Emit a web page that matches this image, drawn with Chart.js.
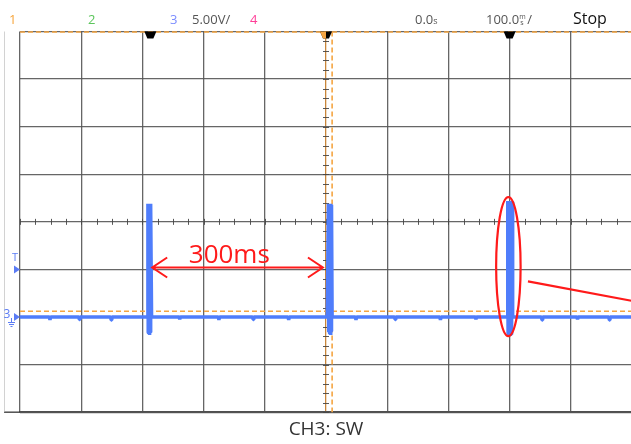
<!DOCTYPE html>
<html>
<head>
<meta charset="utf-8">
<script src="https://cdn.jsdelivr.net/npm/chart.js@4"></script>
<style>
  html, body { margin: 0; padding: 0; background: #fff; }
  #wrap { width: 631px; height: 444px; overflow: hidden; }
</style>
</head>
<body>
<div id="wrap"><canvas id="chart" width="640" height="444"></canvas></div>
<script>
'use strict'

// horizontal: 100 ms/div, 0.0 s at centre; vertical: CH3 5.00 V/div, ground 2 div below centre
const timeTicks = [-500, -400, -300, -200, -100, 0, 100, 200, 300, 400, 500]
const voltTicks = [-10, -5, 0, 5, 10, 15, 20, 25, 30]

// CH3 (SW) trace, time in ms, volts
const traceTime = [
  -500, -452, -451, -450, -404, -403, -402, -352, -351, -350, -292,
  -291, -290.5, -290, -289.5, -289, -288.5, -288, -287.5, -287, -286.5, -286,
  -285, -240, -239, -238, -176, -175, -174, -120, -119, -118, -62, -61, -60, 2,
  4, 4.5, 5, 5.5, 6, 6.5, 7, 7.5, 8, 8.5, 9,
  10, 48, 49, 50, 112, 113, 114, 186, 187, 188, 244, 245, 246, 296,
  297, 297.5, 298, 298.5, 299, 299.5, 300, 300.5, 301, 301.5, 302, 302.5, 303, 303.5, 304,
  305, 352, 353, 354, 410, 411, 412, 462, 463, 464, 500
]
const traceVolts = [
  0, 0, -0.3, 0, 0, -0.25, 0, 0, -0.3, 0, 0,
  11.9, -1.6, 11.9, -1.7, 11.9, -1.9, 11.9, -1.6, 11.9, -1.5, 11.8,
  0, 0, -0.25, 0, 0, -0.3, 0, 0, -0.25, 0, 0, -0.3, 0, 0,
  11.9, -1.6, 11.9, -1.8, 11.9, -1.6, 11.9, -1.9, 11.9, -1.5, 11.8,
  0, 0, -0.3, 0, 0, -0.25, 0, 0, -0.3, 0, 0, -0.25, 0, 0,
  12.2, -1.7, 12.2, -1.8, 12.2, -1.7, 12.2, -1.8, 12.2, -1.7, 12.2, -1.8, 12.2, -1.6, 12.1,
  0, 0, -0.3, 0, 0, -0.25, 0, 0, -0.3, 0, 0
]

// cursors / markers
const markerTimes = [-287, 0, 300]
const trigLevel = 0.6 // orange dashed level, V
const trigTime = 10 // orange dashed cursor, ms
const trigMarkV = 5 // "T" marker on the left

// red annotation
const spanLabel = '300ms'
const spanLabelT = -158
const spanFrom = -284
const spanTo = -5
const spanV = 5.2
const ringT = 298
const ringV = 5.3

const points = traceTime.map((t, i) => ({ x: t, y: traceVolts[i] }))

const BLUE = '#4f7dfb'
const ORANGE = '#f5a542'
const RED = '#ff1a1a'
const GRID = 'rgba(85,85,85,0.9)'

const scopeDecor = {
  id: 'scopeDecor',
  beforeDatasetsDraw (chart) {
    const { ctx, chartArea: a } = chart
    const sx = chart.scales.x
    const sy = chart.scales.y
    const cx = sx.getPixelForValue(0)
    const cy = sy.getPixelForValue(10)
    ctx.save()
    // minor ticks on centre lines
    ctx.strokeStyle = 'rgba(70,70,70,0.9)'
    ctx.lineWidth = 1
    ctx.beginPath()
    for (let t = -500; t <= 500; t += 25) {
      const p = Math.round(sx.getPixelForValue(t)) + 0.5
      ctx.moveTo(p, cy - 3)
      ctx.lineTo(p, cy + 3)
    }
    for (let v = -10; v <= 30; v += 1) {
      const p = Math.round(sy.getPixelForValue(v)) + 0.5
      ctx.moveTo(cx - 3, p)
      ctx.lineTo(cx + 3, p)
    }
    ctx.stroke()
    // orange dashed lines
    ctx.strokeStyle = ORANGE
    ctx.lineWidth = 1.6
    ctx.setLineDash([5, 3])
    ctx.beginPath()
    ctx.moveTo(a.left, a.top + 0.5)
    ctx.lineTo(a.right, a.top + 0.5)
    const ly = sy.getPixelForValue(trigLevel)
    ctx.moveTo(a.left, ly)
    ctx.lineTo(a.right, ly)
    const lx = sx.getPixelForValue(trigTime)
    ctx.moveTo(lx, a.top)
    ctx.lineTo(lx, a.bottom)
    ctx.stroke()
    ctx.setLineDash([])
    // extension of the bottom frame and faint left frame
    ctx.strokeStyle = 'rgba(60,60,60,0.9)'
    ctx.lineWidth = 1.5
    ctx.beginPath()
    ctx.moveTo(4, a.bottom)
    ctx.lineTo(a.left, a.bottom)
    ctx.stroke()
    ctx.strokeStyle = 'rgba(180,180,180,0.6)'
    ctx.lineWidth = 1
    ctx.beginPath()
    ctx.moveTo(4.5, a.top)
    ctx.lineTo(4.5, a.bottom)
    ctx.stroke()
    ctx.restore()
  },
  afterDatasetsDraw (chart) {
    const { ctx, chartArea: a } = chart
    const sx = chart.scales.x
    const sy = chart.scales.y
    ctx.save()
    // top cursor markers
    markerTimes.forEach(t => {
      const p = sx.getPixelForValue(t)
      ctx.fillStyle = '#000'
      ctx.beginPath()
      ctx.moveTo(p - 6, a.top)
      ctx.lineTo(p + 6, a.top)
      ctx.lineTo(p + 3, a.top + 7)
      ctx.lineTo(p - 3, a.top + 7)
      ctx.closePath()
      ctx.fill()
      if (t === 0) {
        ctx.fillStyle = ORANGE
        ctx.beginPath()
        ctx.moveTo(p - 6, a.top)
        ctx.lineTo(p, a.top)
        ctx.lineTo(p, a.top + 7)
        ctx.lineTo(p - 3, a.top + 7)
        ctx.closePath()
        ctx.fill()
      }
    })
    // left markers
    ctx.fillStyle = '#5b7cf5'
    const ty = sy.getPixelForValue(trigMarkV)
    ctx.beginPath()
    ctx.moveTo(14, ty - 4)
    ctx.lineTo(20, ty)
    ctx.lineTo(14, ty + 4)
    ctx.closePath()
    ctx.fill()
    ctx.font = '11px "Open Sans", sans-serif'
    ctx.textAlign = 'center'
    ctx.textBaseline = 'middle'
    ctx.fillText('T', 15, ty - 12)
    const gy = sy.getPixelForValue(0)
    ctx.beginPath()
    ctx.moveTo(14, gy - 4)
    ctx.lineTo(20, gy)
    ctx.lineTo(14, gy + 4)
    ctx.closePath()
    ctx.fill()
    ctx.font = '12px "Open Sans", sans-serif'
    ctx.fillText('3', 7, gy - 2)
    ctx.strokeStyle = '#5b7cf5'
    ctx.lineWidth = 1
    ctx.beginPath()
    ctx.moveTo(11.5, gy + 1)
    ctx.lineTo(11.5, gy + 5)
    ctx.moveTo(8, gy + 5.5)
    ctx.lineTo(15, gy + 5.5)
    ctx.moveTo(9, gy + 7.5)
    ctx.lineTo(14, gy + 7.5)
    ctx.moveTo(10.5, gy + 9.5)
    ctx.lineTo(12.5, gy + 9.5)
    ctx.stroke()

    // red annotation: span arrow
    ctx.strokeStyle = RED
    ctx.fillStyle = RED
    ctx.lineWidth = 2
    const x1 = sx.getPixelForValue(spanFrom)
    const x2 = sx.getPixelForValue(spanTo)
    const ay = sy.getPixelForValue(spanV)
    ctx.beginPath()
    ctx.moveTo(x1, ay)
    ctx.lineTo(x2, ay)
    ctx.moveTo(x1 + 15, ay - 10)
    ctx.lineTo(x1, ay)
    ctx.lineTo(x1 + 15, ay + 10)
    ctx.moveTo(x2 - 15, ay - 10)
    ctx.lineTo(x2, ay)
    ctx.lineTo(x2 - 15, ay + 10)
    ctx.stroke()
    ctx.font = '26px "Open Sans", sans-serif'
    ctx.textAlign = 'center'
    ctx.textBaseline = 'alphabetic'
    ctx.fillText(spanLabel, sx.getPixelForValue(spanLabelT), ay - 5)

    // ring round the third pulse and pointer line
    const rx = sx.getPixelForValue(ringT)
    const ry = sy.getPixelForValue(ringV)
    const rw = sx.getPixelForValue(ringT + 20) - rx
    const rh = ry - sy.getPixelForValue(ringV + 7.3)
    ctx.lineWidth = 2.2
    ctx.beginPath()
    ctx.ellipse(rx, ry, rw, rh, 0, 0, Math.PI * 2)
    ctx.stroke()
    ctx.beginPath()
    ctx.moveTo(sx.getPixelForValue(330), sy.getPixelForValue(3.75))
    ctx.lineTo(sx.getPixelForValue(512), sy.getPixelForValue(1.55))
    ctx.stroke()
    ctx.restore()
  },
  afterDraw (chart) {
    const { ctx } = chart
    ctx.save()
    ctx.textBaseline = 'middle'
    ctx.textAlign = 'left'
    ctx.font = '13px "Open Sans", sans-serif'
    ctx.fillStyle = '#f7a53c'
    ctx.fillText('1', 9, 20)
    ctx.fillStyle = '#5cc65c'
    ctx.fillText('2', 88, 20)
    ctx.fillStyle = '#7b8cff'
    ctx.fillText('3', 170, 20)
    ctx.fillStyle = '#ff3d97'
    ctx.fillText('4', 250, 20)
    ctx.fillStyle = '#555'
    ctx.fillText('5.00V/', 192, 20)
    ctx.fillText('0.0', 415, 20)
    ctx.fillText('100.0', 486, 20)
    const w1 = ctx.measureText('0.0').width
    const w2 = ctx.measureText('100.0').width
    ctx.font = '9px "Open Sans", sans-serif'
    ctx.fillText('s', 415 + w1, 21)
    ctx.font = '7px "Open Sans", sans-serif'
    ctx.fillText('m', 486 + w2, 17)
    ctx.fillText('s', 487 + w2, 23)
    ctx.font = '13px "Open Sans", sans-serif'
    ctx.fillText('/', 494 + w2, 20)
    ctx.fillStyle = '#111'
    ctx.font = '16px "Open Sans", sans-serif'
    ctx.fillText('Stop', 573, 19)
    ctx.restore()
  }
}

const ctx = document.getElementById('chart')

const scopeChart = new Chart(ctx, {
  type: 'scatter',
  data: {
    datasets: [{
      label: 'CH3: SW',
      data: points,
      showLine: true,
      borderColor: BLUE,
      backgroundColor: BLUE,
      borderWidth: 3.5,
      borderJoinStyle: 'bevel',
      pointRadius: 0,
      tension: 0
    }]
  },
  options: {
    responsive: false,
    animation: false,
    layout: { padding: { left: 20, top: 31.5, right: 8, bottom: 0 } },
    plugins: {
      legend: { display: false },
      tooltip: { enabled: false },
      title: {
        display: true,
        position: 'bottom',
        text: 'CH3: SW',
        color: '#333',
        font: { family: '"Open Sans", sans-serif', size: 19, weight: 'normal' },
        padding: { top: 6, bottom: 3 }
      }
    },
    scales: {
      x: {
        type: 'linear',
        min: timeTicks[0],
        max: timeTicks[timeTicks.length - 1],
        afterBuildTicks: scale => { scale.ticks = timeTicks.map(v => ({ value: v })) },
        ticks: { display: false },
        grid: {
          drawTicks: false,
          lineWidth: 1.3,
          color: c => (c.tick && c.tick.value === 0 ? '#c8853a' : GRID)
        },
        border: { display: true, color: 'rgba(60,60,60,0.9)', width: 1.5 }
      },
      y: {
        type: 'linear',
        min: voltTicks[0],
        max: voltTicks[voltTicks.length - 1],
        afterBuildTicks: scale => { scale.ticks = voltTicks.map(v => ({ value: v })) },
        ticks: { display: false },
        grid: { drawTicks: false, lineWidth: 1.3, color: GRID },
        border: { display: false }
      }
    }
  },
  plugins: [scopeDecor]
})

window.scopeChart = scopeChart
</script>
</body>
</html>
